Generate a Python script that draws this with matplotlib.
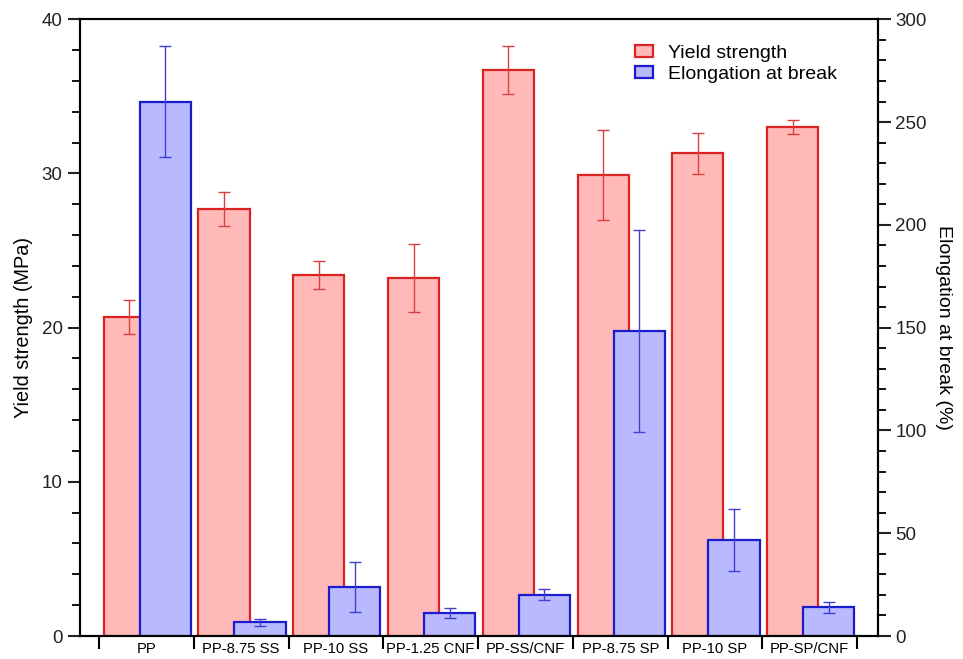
import numpy as np
import matplotlib
matplotlib.use("Agg")
import matplotlib.pyplot as plt
from matplotlib.ticker import MultipleLocator, FixedLocator, NullFormatter

plt.rcParams['font.family'] = ['Liberation Sans', 'DejaVu Sans']

samples = ["PP", "PP-8.75 SS", "PP-10 SS", "PP-1.25 CNF", "PP-SS/CNF",
           "PP-8.75 SP", "PP-10 SP", "PP-SP/CNF"]
yield_strength = [20.7, 27.7, 23.4, 23.2, 36.7, 29.9, 31.3, 33.0]
yield_err = [1.1, 1.1, 0.9, 2.2, 1.55, 2.9, 1.35, 0.45]
elongation = [260, 6.6, 24.0, 11.3, 20.0, 148.3, 46.8, 13.9]
elongation_err = [27, 1.5, 12.2, 2.5, 2.7, 49, 15.1, 2.8]

red_face, red_edge = "#ffb9b9", "#dd2222"
blue_face, blue_edge = "#b9b9ff", "#1c1ccc"

fig = plt.figure(figsize=(9.63, 6.59), dpi=100)
ax = fig.add_axes([0.0831, 0.0349, 0.8286, 0.9358])
ax2 = ax.twinx()

x = np.arange(len(samples))
w = 0.54

ax.bar(x - 0.18, yield_strength, w, color=red_face, edgecolor=red_edge,
       linewidth=1.6, label="Yield strength", zorder=2)
ax.errorbar(x - 0.18, yield_strength, yerr=yield_err, fmt="none",
            ecolor="#d84040", elinewidth=1.0, capsize=4.5, capthick=1.0, zorder=3)

ax2.bar(x + 0.2, elongation, w, color=blue_face, edgecolor=blue_edge,
        linewidth=1.6, label="Elongation at break", zorder=2)
ax2.errorbar(x + 0.2, elongation, yerr=elongation_err, fmt="none",
             ecolor="#4040d0", elinewidth=1.0, capsize=4.5, capthick=1.0, zorder=3)

ax.set_xlim(-0.7, 7.72)
ax.set_ylim(0, 40)
ax2.set_ylim(0, 300)

# category separators as ticks, names centred between them
ax.xaxis.set_major_locator(FixedLocator(np.arange(-0.5, 8, 1.0)))
ax.xaxis.set_major_formatter(NullFormatter())
ax.xaxis.set_minor_locator(FixedLocator(x))
ax.set_xticklabels(samples, minor=True)
ax.tick_params(axis="x", which="major", direction="out", length=9, width=1.5)
ax.tick_params(axis="x", which="minor", length=0, pad=4, labelsize=10.7)

ax.yaxis.set_major_locator(MultipleLocator(10))
ax.yaxis.set_minor_locator(MultipleLocator(2))
ax2.yaxis.set_major_locator(MultipleLocator(50))
ax2.yaxis.set_minor_locator(MultipleLocator(10))
for a in (ax, ax2):
    a.tick_params(axis="y", which="major", direction="out", length=9, width=1.5,
                  labelsize=13.5, colors="#222222")
    a.tick_params(axis="y", which="minor", direction="out", length=6, width=1.3)
    for s in a.spines.values():
        s.set_linewidth(1.5)

ax.set_ylabel("Yield strength (MPa)", fontsize=14.3, labelpad=6)
ax2.set_ylabel("Elongation at break (%)", fontsize=14, rotation=270, labelpad=18)

h1, l1 = ax.get_legend_handles_labels()
h2, l2 = ax2.get_legend_handles_labels()
ax2.legend(h1 + h2, l1 + l2, loc="upper left", bbox_to_anchor=(0.674, 0.987),
           frameon=False, fontsize=14, handlelength=0.9, handleheight=0.55,
           handletextpad=0.8, labelspacing=0.2)

fig.savefig("out.png", dpi=100)
